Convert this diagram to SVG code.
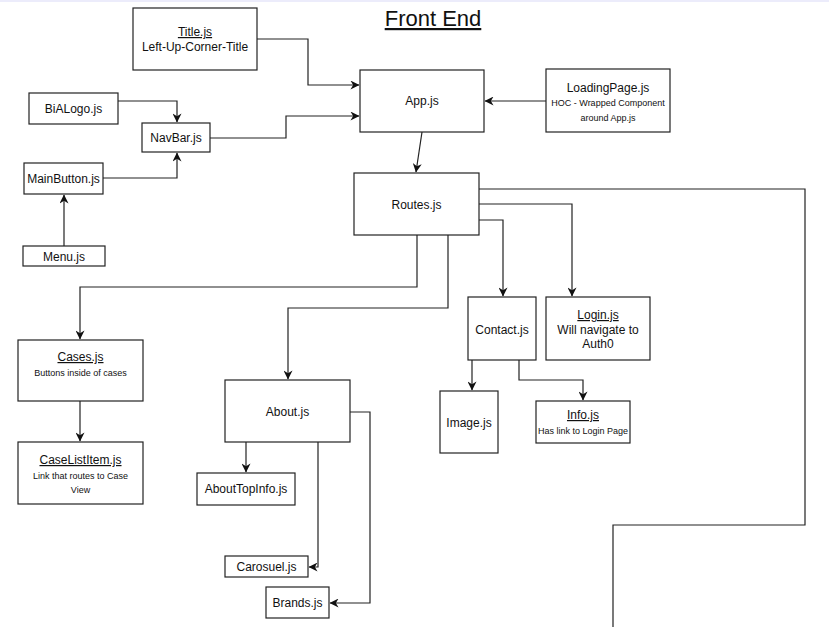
<svg xmlns="http://www.w3.org/2000/svg" width="829" height="627" viewBox="0 0 829 627">
<defs>
<marker id="arr" viewBox="0 0 10 10" refX="9.5" refY="5" markerWidth="10" markerHeight="9" markerUnits="userSpaceOnUse" orient="auto">
<path d="M0,0 L10,5 L0,10 L3,5 Z" fill="#111"/>
</marker>
</defs>
<style>
.box{fill:#fff;stroke:#222;stroke-width:1.2}
.t{font-family:"Liberation Sans",Arial,sans-serif;font-size:12px;fill:#111;text-anchor:middle}
.s{font-family:"Liberation Sans",Arial,sans-serif;font-size:9px;fill:#111;text-anchor:middle}
.u{text-decoration:underline}
.c{fill:none;stroke:#222;stroke-width:1.2}
.a{marker-end:url(#arr)}
</style>
<rect width="829" height="627" fill="#fff"/>
<rect width="829" height="2" fill="#ececfb"/>
<text x="433" y="26" class="t u" style="font-size:22px">Front End</text>

<g id="connectors">
<path class="c a" d="M257,39 H308 V85 H359"/>
<path class="c a" d="M210,138 H286 V116 H359"/>
<path class="c a" d="M118,101 H177 V122"/>
<path class="c a" d="M103,178 H177 V153"/>
<path class="c a" d="M64,246 V195"/>
<path class="c a" d="M546,101 H485"/>
<path class="c a" d="M422,132 L416,172"/>
<path class="c" d="M479,189 H805 V525 H613 V627"/>
<path class="c a" d="M479,204 H572 V296"/>
<path class="c a" d="M479,220 H503 V296"/>
<path class="c a" d="M417,235 V287 H80 V339"/>
<path class="c a" d="M448,235 V308 H288 V379"/>
<path class="c a" d="M80,401 V441"/>
<path class="c a" d="M246,442 V472"/>
<path class="c a" d="M318,442 V567 H309"/>
<path class="c a" d="M350,412 H370 V603 H330"/>
<path class="c a" d="M472,360 V390"/>
<path class="c a" d="M519,360 V380 H583 V400"/>
</g>

<g id="title-js"><rect class="box" x="133" y="8" width="124" height="62"/><text class="t u" x="195" y="36">Title.js</text><text class="t" x="195" y="51">Left-Up-Corner-Title</text></g>
<g id="bialogo"><rect class="box" x="29" y="93" width="89" height="31"/><text class="t" x="73.5" y="113">BiALogo.js</text></g>
<g id="navbar"><rect class="box" x="142" y="123" width="68" height="29"/><text class="t" x="176" y="142">NavBar.js</text></g>
<g id="mainbutton"><rect class="box" x="24" y="163" width="79" height="31"/><text class="t" x="63.5" y="183">MainButton.js</text></g>
<g id="menu"><rect class="box" x="23" y="246" width="82" height="20"/><text class="t" x="64" y="261">Menu.js</text></g>
<g id="app"><rect class="box" x="360" y="70" width="124" height="62"/><text class="t" x="422" y="105">App.js</text></g>
<g id="loadingpage"><rect class="box" x="546" y="69" width="124" height="63"/><text class="t" x="608" y="92">LoadingPage.js</text><text class="s" x="608" y="106">HOC - Wrapped Component</text><text class="s" x="608" y="121">around App.js</text></g>
<g id="routes"><rect class="box" x="354" y="173" width="125" height="62"/><text class="t" x="416.5" y="209">Routes.js</text></g>
<g id="cases"><rect class="box" x="18" y="340" width="125" height="61"/><text class="t u" x="80.5" y="361">Cases.js</text><text class="s" x="80.5" y="376">Buttons inside of cases</text></g>
<g id="caselistitem"><rect class="box" x="18" y="442" width="125" height="62"/><text class="t u" x="80.5" y="464">CaseListItem.js</text><text class="s" x="80.5" y="479">Link that routes to Case</text><text class="s" x="80.5" y="493">View</text></g>
<g id="about"><rect class="box" x="225" y="380" width="125" height="62"/><text class="t" x="287.5" y="416">About.js</text></g>
<g id="abouttopinfo"><rect class="box" x="197" y="473" width="98" height="32"/><text class="t" x="246" y="493">AboutTopInfo.js</text></g>
<g id="carosuel"><rect class="box" x="225" y="556" width="83" height="21"/><text class="t" x="266.5" y="571">Carosuel.js</text></g>
<g id="brands"><rect class="box" x="266" y="587" width="63" height="31"/><text class="t" x="297.5" y="607">Brands.js</text></g>
<g id="contact"><rect class="box" x="468" y="297" width="68" height="63"/><text class="t" x="502" y="334">Contact.js</text></g>
<g id="login"><rect class="box" x="546" y="297" width="104" height="63"/><text class="t u" x="598" y="319">Login.js</text><text class="t" x="598" y="334">Will navigate to</text><text class="t" x="598" y="348">Auth0</text></g>
<g id="image"><rect class="box" x="440" y="391" width="58" height="62"/><text class="t" x="469" y="427">Image.js</text></g>
<g id="info"><rect class="box" x="536" y="401" width="94" height="42"/><text class="t u" x="583" y="419">Info.js</text><text class="s" x="583" y="434">Has link to Login Page</text></g>
</svg>
